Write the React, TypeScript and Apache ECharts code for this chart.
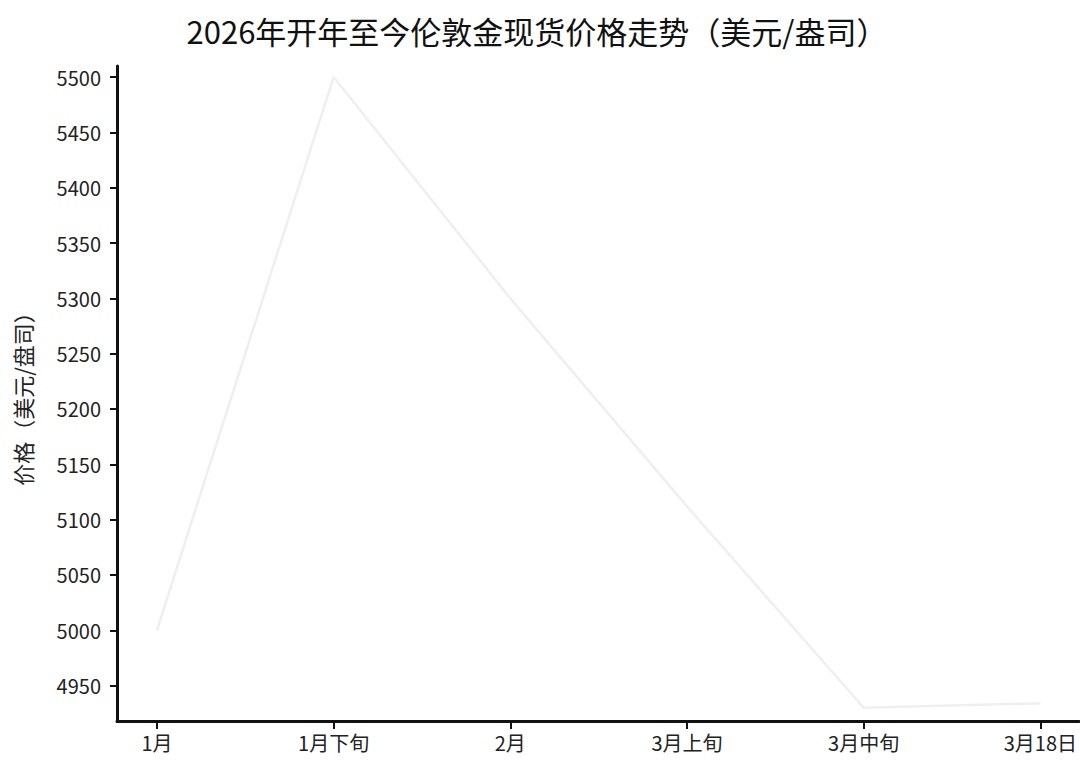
import { useEffect, useRef } from 'react';
import * as echarts from 'echarts';

const categories = ['1月', '1月下旬', '2月', '3月上旬', '3月中旬', '3月18日'];
const prices = [5000, 5500, 5300, 5112, 4930, 4934];
const yTicks = [4950, 5000, 5050, 5100, 5150, 5200, 5250, 5300, 5350, 5400, 5450, 5500];

const FONT = '"Noto Sans CJK SC", "Noto Sans", sans-serif';

const App = () => {
  const chartRef = useRef<HTMLDivElement>(null);

  useEffect(() => {
    if (!chartRef.current) return;
    const chart = echarts.init(chartRef.current, undefined, { renderer: 'svg' });

    const xIdx = categories.map((_, i) => i);

    const option: echarts.EChartsOption = {
      animation: false,
      backgroundColor: '#ffffff',
      title: {
        text: '2026年开年至今伦敦金现货价格走势（美元/盎司）',
        left: 532,
        textAlign: 'center',
        top: 10,
        textStyle: { fontFamily: FONT, fontSize: 31, fontWeight: 'normal', color: '#111' }
      },
      grid: { left: 117, right: 0, top: 66, bottom: 51 },
      xAxis: {
        type: 'value',
        min: -0.226,
        max: 5.22,
        splitLine: { show: false },
        axisLine: { onZero: false, lineStyle: { color: '#111', width: 3 } },
        axisTick: { customValues: xIdx, length: 8, lineStyle: { color: '#111', width: 2 } },
        axisLabel: {
          customValues: xIdx,
          formatter: (v: number) => categories[Math.round(v)] ?? '',
          margin: 11,
          fontFamily: FONT,
          fontSize: 20,
          color: '#222'
        }
      },
      yAxis: {
        type: 'value',
        min: 4918,
        max: 5510,
        name: '价格（美元/盘司）',
        nameLocation: 'middle',
        nameRotate: 90,
        nameGap: 84,
        nameTextStyle: { fontFamily: FONT, fontSize: 22, color: '#222' },
        splitLine: { show: false },
        axisLine: { show: true, onZero: false, lineStyle: { color: '#111', width: 3 } },
        axisTick: { show: true, customValues: yTicks, length: 7, lineStyle: { color: '#111', width: 2 } },
        axisLabel: {
          customValues: yTicks,
          formatter: (v: number) => String(v),
          margin: 16,
          fontFamily: FONT,
          fontSize: 20,
          color: '#222'
        }
      },
      series: [
        {
          type: 'line',
          data: prices.map((p, i) => [i, p]),
          showSymbol: false,
          lineStyle: { color: '#efefef', width: 2.5 }
        }
      ]
    };

    chart.setOption(option);
    return () => chart.dispose();
  }, []);

  return (
    <div
      ref={chartRef}
      style={{ position: 'absolute', left: 0, top: 0, width: 1080, height: 772 }}
    />
  );
};

export default App;
